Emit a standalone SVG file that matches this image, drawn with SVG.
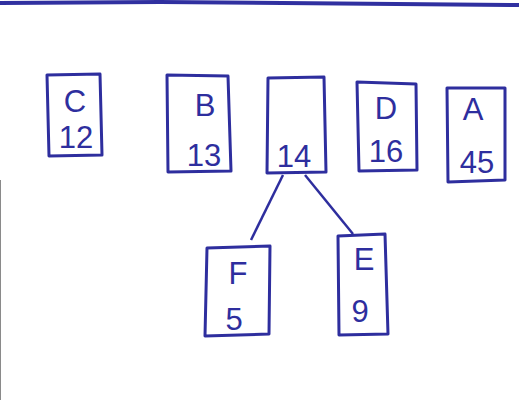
<svg xmlns="http://www.w3.org/2000/svg" width="519" height="400" viewBox="0 0 519 400">
<style>
.box{fill:none;stroke:#2e2e9e;stroke-width:3;stroke-linejoin:round}
.edge{stroke:#2e2e9e;stroke-width:2.5;fill:none}
text{font-family:"Liberation Sans",Arial,sans-serif;font-size:31px;fill:#2e2e9e;text-anchor:middle}
</style>
<rect width="519" height="400" fill="#ffffff"/>
<path d="M0 3 L160 2 L519 5" stroke="#3030a0" stroke-width="4" fill="none"/>
<line x1="0.5" y1="180" x2="0.5" y2="400" stroke="#8a8a8a" stroke-width="1"/>
<g id="connectors">
<line class="edge" x1="283" y1="175" x2="251" y2="240"/>
<line class="edge" x1="305" y1="175" x2="353" y2="234"/>
</g>
<g id="C"><path class="box" d="M47 75 L100 74 L102 155 L49 156 Z"/><text x="75" y="112">C</text><text x="76" y="148">12</text></g>
<g id="B"><path class="box" d="M167 75 L228 76 L231 171 L168 172 Z"/><text x="205" y="116">B</text><text x="204" y="166">13</text></g>
<g id="N14"><path class="box" d="M268 78 L324 77 L326 172 L267 173 Z"/><text x="294" y="167">14</text></g>
<g id="D"><path class="box" d="M357 82 L416 84 L417 170 L359 171 Z"/><text x="386" y="119">D</text><text x="386" y="162">16</text></g>
<g id="A"><path class="box" d="M447 88 L505 88 L505 180 L448 182 Z"/><text x="473" y="120">A</text><text x="477" y="173">45</text></g>
<g id="F"><path class="box" d="M207 248 L270 246 L269 334 L205 336 Z"/><text x="238" y="284">F</text><text x="234" y="330">5</text></g>
<g id="E"><path class="box" d="M338 236 L385 234 L388 334 L339 335 Z"/><text x="364" y="270">E</text><text x="360" y="322">9</text></g>
</svg>
